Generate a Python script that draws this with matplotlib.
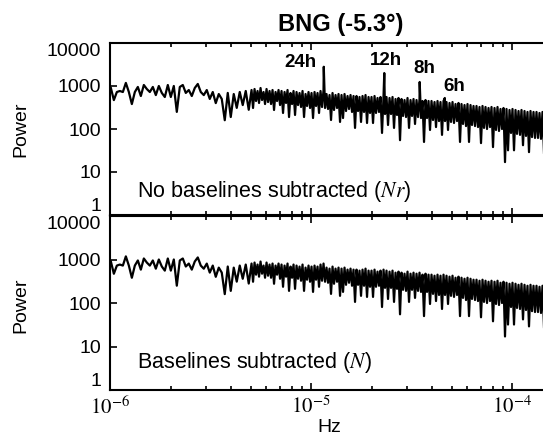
import numpy as np
import matplotlib
matplotlib.use('Agg')
import matplotlib.pyplot as plt
from matplotlib.ticker import LogLocator, NullFormatter

plt.rcParams['font.family'] = ['Liberation Sans', 'DejaVu Sans']
plt.rcParams['mathtext.fontset'] = 'stix'

# ---- data ----
# power spectrum, low-frequency part (1.0e-6 .. 4.9e-6 Hz)
power_low = [900, 470, 725, 765, 725, 1180, 725, 380, 725, 950,
             585, 1055, 850, 725, 950, 615, 1000, 690, 555, 1055,
             555, 1000, 250, 950, 1055, 690, 805, 585, 900, 1115,
             725, 615, 805, 500, 725, 400, 650, 500, 160, 690,
             190, 650, 310, 725, 360, 765, 280]
# power spectrum, high-frequency part (5.06e-6 .. 1.545e-4 Hz)
power_high = [807, 308, 851, 448, 765, 403, 898, 472, 725, 381,
              851, 424, 765, 381, 807, 277, 725, 448, 807, 361,
              765, 236, 725, 403, 807, 190, 687, 381, 765, 212,
              725, 361, 687, 325, 765, 190, 651, 343, 725, 308,
              687, 180, 725, 343, 687, 236, 765, 325, 807, 308,
              651, 292, 617, 162, 687, 277, 617, 308, 651, 146,
              617, 180, 651, 262, 585, 292, 617, 249, 585, 106,
              585, 262, 555, 146, 585, 249, 617, 138, 555, 236,
              555, 138, 585, 236, 526, 249, 555, 81, 585, 223,
              555, 124, 526, 223, 555, 106, 498, 212, 526, 55,
              498, 201, 472, 190, 526, 106, 472, 201, 498, 131,
              472, 190, 498, 180, 448, 50, 472, 180, 448, 95,
              448, 162, 424, 111, 448, 153, 424, 73, 448, 153,
              424, 95, 403, 146, 424, 138, 381, 153, 403, 50,
              381, 131, 361, 117, 381, 50, 361, 124, 343, 117,
              343, 111, 325, 47, 343, 106, 325, 100, 308, 111,
              325, 38, 308, 95, 325, 90, 292, 100, 308, 17,
              292, 32, 277, 81, 292, 32, 277, 77, 262, 73,
              277, 42, 262, 69, 249, 29, 262, 65, 249, 62,
              249, 62, 236, 59, 249, 28, 236, 59, 223, 55]
freq_low = np.geomspace(1.01e-6, 4.9e-6, len(power_low))
freq_high = np.geomspace(5.06e-6, 1.545e-4, len(power_high))

# tidal peaks present only without baseline subtraction
tidal_labels = ['24h', '12h', '8h', '6h']
tidal_period_h = [24, 12, 8, 6]
tidal_power = [2800, 2000, 1240, 526]

ytick_vals = [1, 10, 100, 1000, 10000]
ytick_labels = ['1', '10', '100', '1000', '10000']
xtick_vals = [1e-6, 1e-5, 1e-4]
xtick_labels = [r'$10^{-6}$', r'$10^{-5}$', r'$10^{-4}$']

# ---- build curves ----
freq_n = np.concatenate([freq_low, freq_high])
power_n = np.concatenate([power_low, power_high]).astype(float)
tidal_freq = 1.0 / (np.array(tidal_period_h) * 3600.0)
freq_nr = np.concatenate([freq_n, tidal_freq])
power_nr = np.concatenate([power_n, tidal_power])
order = np.argsort(freq_nr)
freq_nr, power_nr = freq_nr[order], power_nr[order]

W, H = 543, 443
fig = plt.figure(figsize=(W / 100, H / 100), dpi=100)
left = 110 / W
width = (548 - 110) / W
ax1 = fig.add_axes([left, 1 - 215 / H, width, (215 - 43) / H])
ax2 = fig.add_axes([left, 1 - 390 / H, width, (390 - 216) / H])

ax1.plot(freq_nr, power_nr, color='black', lw=1.6)
ax2.plot(freq_n, power_n, color='black', lw=1.6)

for ax in (ax1, ax2):
    ax.set_xscale('log')
    ax.set_yscale('log')
    ax.set_xlim(1e-6, 1.51e-4)
    ax.set_ylim(1, 10000)
    ax.spines['right'].set_visible(False)
    for s in ('left', 'top', 'bottom'):
        ax.spines[s].set_linewidth(1.5)
    ax.xaxis.set_minor_locator(LogLocator(base=10, subs=np.arange(2, 10)))
    ax.yaxis.set_minor_locator(LogLocator(base=10, subs=np.arange(2, 10)))
    ax.xaxis.set_minor_formatter(NullFormatter())
    ax.yaxis.set_minor_formatter(NullFormatter())
    ax.tick_params(which='both', direction='in', top=True, bottom=True,
                   left=True, right=False, width=1.2)
    ax.tick_params(which='major', length=5, pad=6.5, labelsize=14)
    ax.tick_params(which='minor', length=3)
    ax.set_yticks(ytick_vals, labels=ytick_labels)
    ax.set_xticks(xtick_vals, labels=xtick_labels)
    labs = ax.get_yticklabels()
    labs[0].set_va('bottom')
    labs[-1].set_va('top')

ax1.tick_params(axis='x', labelbottom=False)
ax2.tick_params(axis='x', labelsize=15, pad=4)
ax2.set_xlabel('Hz', fontsize=14, labelpad=1)

fig.text(21 / W, 1 - 129 / H, 'Power', rotation=90, ha='center', va='center', fontsize=14)
fig.text(21 / W, 1 - 305 / H, 'Power', rotation=90, ha='center', va='center', fontsize=14)
fig.text(341 / W, 1 - 24 / H, 'BNG (-5.3°)', ha='center', va='center',
         fontsize=17, fontweight='bold')

label_pos = {'24h': (8.82e-6, 2770), '12h': (23.6e-6, 3076),
             '8h': (36.6e-6, 1972), '6h': (51.3e-6, 765)}
for lab in tidal_labels:
    x, y = label_pos[lab]
    ax1.text(x, y, lab, ha='center', va='baseline', fontsize=13.5, fontweight='bold')

ax1.text(0.061, 0.105, r'No baselines subtracted ($\mathit{Nr}$)', transform=ax1.transAxes,
         fontsize=15.5, ha='left', va='baseline')
ax2.text(0.061, 0.126, r'Baselines subtracted ($\mathit{N}$)', transform=ax2.transAxes,
         fontsize=15.5, ha='left', va='baseline')

fig.savefig('out.png', dpi=100)
